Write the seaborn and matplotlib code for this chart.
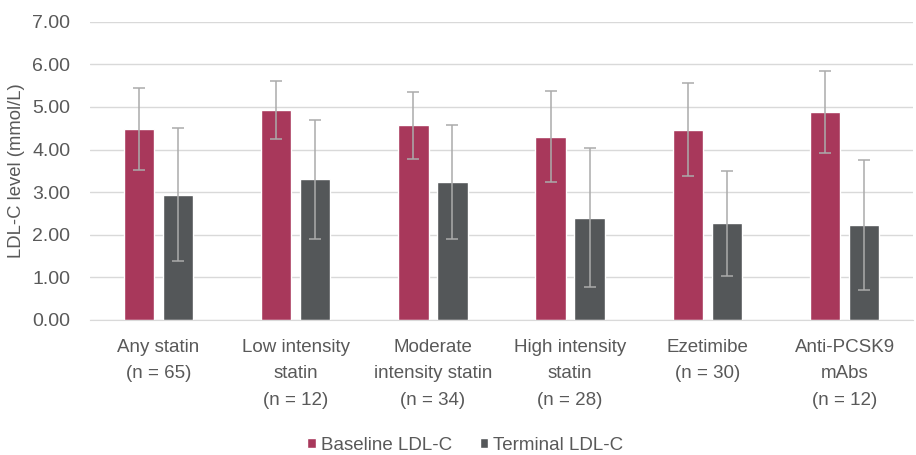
import pandas as pd
import numpy as np
import matplotlib
matplotlib.use("Agg")
import matplotlib.pyplot as plt
import seaborn as sns

# values
groups = ["Any statin\n(n = 65)", "Low intensity\nstatin\n(n = 12)",
          "Moderate\nintensity statin\n(n = 34)", "High intensity\nstatin\n(n = 28)",
          "Ezetimibe\n(n = 30)", "Anti-PCSK9\nmAbs\n(n = 12)"]
baseline = [4.48, 4.92, 4.57, 4.30, 4.47, 4.88]
baseline_sd = [0.97, 0.68, 0.78, 1.07, 1.10, 0.97]
terminal = [2.94, 3.30, 3.24, 2.40, 2.27, 2.22]
terminal_sd = [1.56, 1.40, 1.33, 1.63, 1.23, 1.53]
series = ["Baseline LDL-C", "Terminal LDL-C"]

df = pd.DataFrame({
    "group": groups * 2,
    "series": [series[0]] * 6 + [series[1]] * 6,
    "value": baseline + terminal,
    "sd": baseline_sd + terminal_sd,
})

sns.set_style("white")
plt.rcParams["font.family"] = ["Liberation Sans", "DejaVu Sans"]

fig = plt.figure(figsize=(9.16, 4.55), dpi=100)
ax = fig.add_axes([0.098, 0.297, 0.899, 0.655])

colors = ["#A8385B", "#545759"]
sns.barplot(data=df, x="group", y="value", hue="series", palette=colors,
            width=0.57, gap=0.22, errorbar=None, ax=ax, saturation=1)

# error bars on top of each bar
for cont, s in zip(ax.containers, series):
    sub = df[df["series"] == s]
    xs = [p.get_x() + p.get_width() / 2 for p in cont.patches]
    ax.errorbar(xs, sub["value"], yerr=sub["sd"], fmt="none",
                ecolor="#ABABAB", elinewidth=1.1, capsize=4, capthick=1.1, zorder=3)

ax.set_ylim(0, 7)
ax.set_xlim(-0.5, 5.5)
ax.set_yticks(np.arange(0, 7.01, 1))
ax.set_yticklabels([f"{v:.2f}" for v in np.arange(0, 7.01, 1)])
ax.yaxis.grid(True, color="#D9D9D9", linewidth=1)
ax.set_axisbelow(True)
for sp in ["top", "right", "left"]:
    ax.spines[sp].set_visible(False)
ax.spines["bottom"].set_color("#D9D9D9")
ax.tick_params(axis="both", length=0, labelcolor="#595959")
ax.tick_params(axis="y", labelsize=14, pad=14)
ax.tick_params(axis="x", labelsize=13.5, pad=14)
ax.set_xlabel("")
ax.set_ylabel("LDL-C level (mmol/L)", fontsize=13.3, color="#595959", labelpad=5)
for t in ax.get_xticklabels():
    t.set_linespacing(1.7)

ax.legend(loc="center", bbox_to_anchor=(0.456, -0.42), ncol=2, frameon=False,
          fontsize=13.5, labelcolor="#595959", handlelength=0.45, handleheight=0.45,
          handletextpad=0.25, columnspacing=1.5)

fig.savefig("out.png", dpi=100)
